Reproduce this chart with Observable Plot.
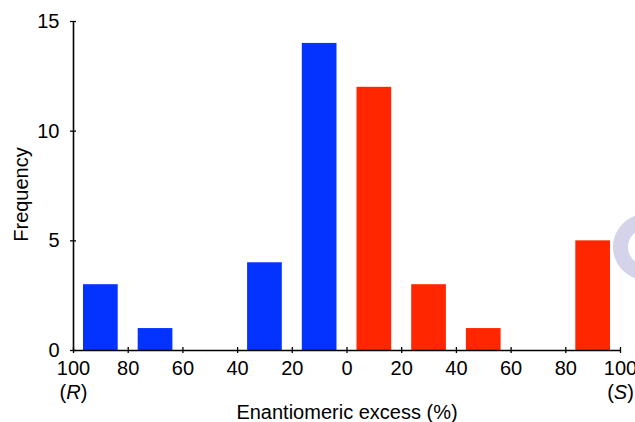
<!DOCTYPE html>
<html><head><meta charset="utf-8">
<script src="https://cdn.jsdelivr.net/npm/d3@7"></script>
<script src="https://cdn.jsdelivr.net/npm/@observablehq/plot@0.6"></script>
<style>
html,body{margin:0;padding:0;background:#fff;overflow:hidden;}
#chart{position:relative;width:635px;height:422px;}
#chart svg{display:block;}
#ring{position:absolute;left:613px;top:214px;width:66px;height:66px;box-sizing:border-box;border:15px solid #d5d3ea;border-radius:50%;}
</style></head><body>
<div id="chart"></div>
<script>
// Data
const binStart = [-100, -80, -60, -40, -20, 0, 20, 40, 60, 80];
const binEnd = [-80, -60, -40, -20, 0, 20, 40, 60, 80, 100];
const frequency = [3, 1, 0, 4, 14, 12, 3, 1, 0, 5];
const configuration = ["R", "R", "R", "R", "R", "S", "S", "S", "S", "S"];
const xTicks = [-100, -80, -60, -40, -20, 0, 20, 40, 60, 80, 100];
const yTicks = [0, 5, 10, 15];
const sideLabels = ["(R)", "(S)"];
const sideX = [-100, 100];
const xDomain = [-100, 100];
const yDomain = [0, 15];

const bins = binStart.map((s, i) => ({x1: s, x2: binEnd[i], y: frequency[i], c: configuration[i]}));
const sides = sideLabels.map((t, i) => ({x: sideX[i], label: t}));

const font = "'Liberation Sans', Arial, Helvetica, sans-serif";

const chart = Plot.plot({
  width: 635,
  height: 422,
  marginTop: 21,
  marginBottom: 72,
  marginLeft: 73,
  marginRight: 15,
  style: {fontFamily: font, fontSize: "20px", background: "#fff", color: "#000", overflow: "visible"},
  x: {domain: xDomain, label: null},
  y: {domain: yDomain, label: null},
  color: {domain: ["R", "S"], range: ["#0433FF", "#FF2600"]},
  marks: [
    Plot.rectY(bins, {x1: "x1", x2: "x2", y: "y", fill: "c", insetLeft: 10, insetRight: 10}),
    Plot.ruleX([xDomain[0]], {y1: yDomain[0], y2: yDomain[1], stroke: "#000", strokeWidth: 1.6}),
    Plot.ruleY([yDomain[0]], {x1: xDomain[0], x2: xDomain[1], stroke: "#000", strokeWidth: 1.6}),
    Plot.axisY(yTicks, {label: null, tickSize: 6, dx: 3, tickFormat: () => "", strokeWidth: 1.3}),
    Plot.axisY(yTicks, {label: null, tickSize: 0, tickPadding: 14, fontSize: 20}),
    Plot.axisX(xTicks, {label: null, tickSize: 6, dy: -3, tickFormat: () => "", strokeWidth: 1.3}),
    Plot.axisX(xTicks, {label: null, tickSize: 0, tickPadding: 10, fontSize: 20, tickFormat: d => String(Math.abs(d))}),
    Plot.text(sides, {x: "x", text: "label", frameAnchor: "bottom", lineAnchor: "middle", dy: 42.5, fontSize: 20}),
    Plot.text(["Enantiomeric excess (%)"], {frameAnchor: "bottom", lineAnchor: "middle", textAnchor: "middle", dy: 62.5, fontSize: 20}),
    Plot.text(["Frequency"], {frameAnchor: "left", textAnchor: "middle", lineAnchor: "middle", dx: -52, dy: 8.5, rotate: -90, fontSize: 20})
  ]
});

// italicize the configuration letters
chart.querySelectorAll("text").forEach(t => {
  const m = /^\(([RS])\)$/.exec(t.textContent);
  if (m) {
    while (t.firstChild) t.removeChild(t.firstChild);
    const ns = "http://www.w3.org/2000/svg";
    const a = document.createElementNS(ns, "tspan"); a.textContent = "(";
    const b = document.createElementNS(ns, "tspan"); b.textContent = m[1]; b.setAttribute("font-style", "italic");
    const c = document.createElementNS(ns, "tspan"); c.textContent = ")";
    t.append(a, b, c);
  }
});

const container = document.getElementById("chart");
container.appendChild(chart);
const ring = document.createElement("div");
ring.id = "ring";
container.appendChild(ring);
</script>
</body></html>
